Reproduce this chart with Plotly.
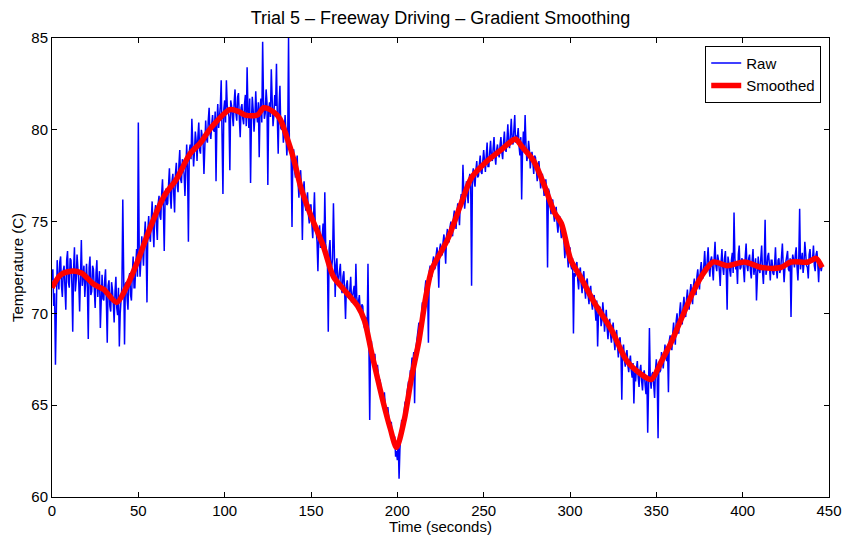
import plotly.graph_objects as go

# Raw samples on whole seconds, t = 0 .. 446
raw_t_a = list(range(0, 447))
raw_v_a = [
    71.8, 70.4, 67.2, 72.9, 71.3, 73.1, 70.9, 72.6, 70.2, 73.4,
    71.4, 72.9, 69.0, 73.6, 71.8, 72.5, 70.1, 74.0, 72.0, 70.9,
    72.7, 68.6, 73.1, 71.2, 72.4, 70.3, 72.9, 71.6, 69.2, 72.1,
    70.7, 72.4, 68.4, 71.8, 70.1, 71.3, 69.5, 72.0, 69.9, 68.2,
    70.9, 76.2, 68.3, 71.7, 70.2, 72.2, 70.7, 73.1, 71.4, 73.5,
    80.4, 72.0, 74.2, 72.6, 75.0, 70.6, 75.3, 73.9, 76.1, 73.6,
    75.9, 74.0, 76.4, 75.1, 77.3, 73.4, 76.8, 76.0, 77.9, 75.7,
    77.6, 75.5, 78.2, 76.6, 78.9, 77.1, 78.1, 76.4, 79.2, 73.9,
    79.2, 80.6, 78.0, 79.9, 78.3, 80.4, 78.7, 79.6, 77.6, 80.5,
    79.3, 81.2, 79.5, 80.8, 79.9, 77.2, 81.4, 80.6, 82.7, 76.5,
    81.6, 82.7, 81.0, 77.8, 81.3, 80.2, 82.2, 80.5, 82.0, 79.6,
    81.4, 80.3, 81.9, 83.4, 80.1, 77.1, 81.8, 79.9, 82.1, 80.4,
    78.5, 81.7, 84.8, 80.6, 82.2, 77.0, 81.5, 83.3, 80.2, 81.9,
    83.6, 78.7, 82.4, 80.0, 79.3, 80.8, 78.6, 85.0, 79.2, 74.7,
    78.9, 77.4, 78.6, 76.3, 77.8, 74.0, 77.2, 75.6, 76.6, 74.9,
    75.9, 74.1, 76.6, 74.5, 72.3, 74.8, 73.6, 74.9, 76.6, 73.2,
    69.0, 74.0, 72.5, 76.0, 70.9, 73.0, 71.8, 72.7, 71.1, 72.3,
    69.7, 71.8, 70.8, 72.0, 70.9, 71.5, 72.7, 70.4, 71.0, 70.1,
    70.4, 69.2, 69.7, 72.7, 64.2, 68.5, 67.9, 67.8, 67.0, 66.8,
    66.4, 65.6, 65.4, 65.0, 64.3, 64.2, 63.5, 63.4, 62.8, 62.2,
    62.0, 61.0, 63.4, 63.6, 64.7, 64.6, 65.9, 65.6, 66.8, 67.3,
    65.1, 68.3, 68.9, 68.6, 70.1, 69.8, 71.3, 71.0, 68.4, 72.6,
    72.0, 73.1, 72.5, 73.6, 71.4, 73.8, 73.2, 74.3, 72.7, 74.6,
    73.9, 75.0, 74.2, 75.6, 74.6, 76.0, 74.8, 76.5, 78.1, 75.7,
    77.2, 76.0, 77.6, 71.5, 77.9, 76.9, 78.3, 77.5, 78.6, 77.6,
    78.9, 77.7, 79.3, 78.0, 79.4, 78.3, 79.6, 78.1, 79.2, 78.5,
    79.6, 78.4, 79.9, 78.8, 80.3, 79.0, 80.6, 79.2, 80.8, 79.7,
    80.1, 78.6, 76.2, 79.9, 80.8, 78.3, 79.4, 77.9, 78.8, 77.6,
    78.5, 77.2, 78.3, 76.8, 77.6, 76.4, 77.3, 72.5, 76.6, 75.4,
    76.2, 75.0, 75.8, 74.4, 75.3, 74.1, 74.8, 73.0, 74.0, 72.5,
    73.6, 72.4, 68.9, 72.0, 72.8, 71.3, 72.5, 71.1, 72.3, 70.8,
    71.9, 70.5, 71.5, 70.2, 71.0, 69.6, 68.2, 70.4, 69.3, 70.6,
    69.0, 70.2, 68.6, 69.7, 68.4, 69.5, 68.0, 69.1, 67.6, 68.7,
    65.3, 68.3, 67.1, 68.0, 66.8, 67.7, 66.5, 65.1, 66.3, 67.4,
    66.0, 67.2, 65.8, 66.9, 65.6, 63.5, 69.2, 65.9, 66.8, 65.4,
    67.5, 63.2, 66.8, 67.9, 67.0, 68.3, 67.4, 65.7, 68.8, 68.0,
    69.5, 68.3, 70.0, 68.9, 70.6, 69.4, 70.9, 69.8, 71.3, 70.2,
    71.6, 70.5, 71.9, 71.0, 72.4, 71.3, 72.8, 71.9, 73.4, 72.2,
    73.6, 72.0, 73.1, 71.8, 73.9, 72.3, 72.9, 71.5, 73.5, 72.1,
    73.4, 70.2, 72.8, 72.0, 73.3, 75.5, 72.4, 71.6, 73.7, 72.5,
    72.9, 71.7, 73.8, 72.3, 73.2, 71.9, 73.5, 72.6, 70.7, 73.1,
    72.2, 73.7, 71.6, 75.1, 72.4, 73.3, 71.8, 72.9, 72.1, 73.6,
    71.9, 73.0, 72.4, 73.8, 71.7, 72.8, 73.4, 72.3, 69.8, 73.2,
    72.5, 73.6, 71.8, 75.7, 72.9, 72.2, 73.9, 72.6, 71.9, 73.5,
    72.8, 73.7, 72.3, 73.4, 71.7, 72.4, 72.6,
]

# Raw samples on half seconds, t = 0.5 .. 445.5
raw_t_b = [i + 0.5 for i in range(0, 446)]
raw_v_b = [
    72.4, 71.1, 70.6, 71.9, 72.8, 71.5, 72.3, 71.4, 72.9, 71.7,
    73.0, 71.6, 72.4, 71.2, 73.2, 71.7, 72.8, 71.5, 72.6, 71.9,
    71.4, 72.5, 71.0, 72.6, 71.3, 72.2, 70.9, 72.3, 71.5, 70.8,
    71.8, 70.6, 71.5, 70.4, 71.7, 70.5, 71.2, 70.3, 71.4, 70.0,
    71.5, 70.3, 71.6, 70.8, 71.9, 71.0, 72.1, 71.4, 72.6, 72.0,
    73.5, 72.9, 73.4, 74.1, 73.6, 74.5, 74.2, 75.1, 74.6, 75.5,
    74.8, 76.0, 75.3, 76.5, 75.7, 76.3, 75.9, 77.0, 76.4, 77.2,
    76.5, 77.6, 77.0, 78.1, 77.3, 78.4, 77.6, 78.5, 77.9, 78.8,
    78.4, 79.3, 78.8, 79.4, 79.6, 78.9, 80.0, 79.3, 79.9, 79.5,
    80.5, 79.8, 80.3, 80.0, 81.0, 80.4, 80.1, 81.3, 79.8, 81.1,
    80.4, 81.3, 80.7, 81.6, 80.8, 81.5, 80.9, 81.8, 80.6, 81.2,
    80.6, 81.4, 80.2, 81.0, 81.7, 80.5, 81.1, 80.7, 80.9, 81.5,
    81.2, 80.4, 81.6, 80.9, 81.5, 81.1, 80.7, 81.7, 80.8, 81.3,
    80.6, 81.3, 80.1, 80.5, 79.9, 79.8, 79.5, 79.0, 78.5, 78.9,
    77.8, 78.1, 77.2, 77.4, 76.7, 76.6, 76.1, 76.2, 75.4, 75.9,
    74.9, 75.3, 74.7, 73.9, 74.3, 73.6, 74.2, 73.3, 73.8, 73.0,
    73.5, 72.6, 73.0, 72.1, 72.6, 71.6, 72.3, 71.4, 72.0, 71.2,
    71.5, 70.9, 71.3, 70.6, 71.1, 70.4, 70.9, 70.6, 70.2, 70.5,
    69.4, 69.8, 68.9, 68.7, 68.2, 67.6, 67.3, 66.9, 67.2, 66.1,
    65.9, 65.1, 65.7, 64.6, 64.9, 63.9, 64.1, 63.0, 63.3, 62.5,
    63.1, 62.6, 64.2, 64.0, 65.2, 65.6, 66.3, 66.9, 67.6, 67.9,
    68.0, 68.8, 69.5, 69.3, 70.6, 70.9, 71.8, 71.6, 72.3, 72.1,
    72.8, 72.4, 73.2, 72.9, 73.5, 73.2, 73.9, 73.6, 74.2, 73.9,
    74.7, 74.6, 75.2, 75.0, 75.5, 75.4, 76.1, 75.9, 76.6, 76.3,
    76.6, 77.3, 76.9, 77.5, 77.2, 77.8, 77.4, 78.1, 77.7, 78.3,
    78.3, 78.6, 78.0, 78.8, 78.5, 79.0, 78.6, 78.9, 78.7, 79.2,
    78.8, 79.3, 79.0, 79.5, 79.2, 79.8, 79.4, 80.0, 79.3, 79.6,
    79.1, 79.6, 78.8, 79.0, 79.2, 78.6, 78.9, 78.5, 78.2, 78.6,
    77.9, 77.7, 77.6, 77.3, 77.0, 76.9, 76.5, 76.8, 75.9, 76.1,
    75.4, 75.6, 74.9, 75.1, 74.6, 74.6, 73.9, 73.8, 73.2, 73.4,
    72.6, 73.0, 72.2, 72.6, 71.8, 72.3, 71.6, 72.0, 71.4, 71.7,
    71.0, 71.3, 70.6, 70.9, 70.3, 70.7, 69.9, 70.3, 69.6, 70.0,
    69.6, 69.2, 69.4, 68.8, 69.1, 68.6, 68.8, 68.3, 68.5, 67.9,
    68.0, 67.5, 67.8, 67.2, 67.4, 66.9, 67.3, 66.8, 67.0, 66.5,
    66.9, 66.3, 66.7, 66.1, 66.6, 66.0, 66.4, 66.7, 66.1, 66.9,
    66.4, 67.3, 66.9, 67.4, 67.6, 67.7, 68.1, 68.5, 68.3, 68.9,
    68.8, 69.6, 69.3, 70.1, 69.7, 70.4, 70.2, 70.8, 70.5, 71.1,
    71.1, 71.5, 71.4, 72.0, 71.7, 72.3, 72.1, 72.6, 72.4, 72.9,
    72.5, 72.9, 72.4, 73.0, 72.6, 73.2, 72.3, 72.8, 72.5, 73.0,
    72.3, 73.1, 72.5, 72.9, 72.2, 73.0, 72.7, 73.2, 72.4, 73.0,
    72.4, 73.1, 72.6, 73.0, 72.3, 72.9, 72.1, 73.0, 72.6, 72.4,
    73.0, 72.3, 72.8, 72.1, 73.1, 72.6, 72.9, 72.2, 72.7, 72.4,
    72.9, 72.2, 73.1, 72.6, 72.5, 73.2, 72.4, 73.0, 72.6, 72.9,
    73.2, 72.5, 73.0, 72.4, 73.3, 72.7, 73.1, 72.5, 73.2, 72.8,
    73.0, 72.6, 73.2, 72.7, 72.9, 72.3,
]

# Smoothed curve samples
smooth_t = [0, 5, 11, 17, 24, 30, 37.5, 43, 49, 57, 65, 72, 80, 86, 92, 103, 108, 112,
            119, 122.6, 128, 132, 136, 140, 144, 150, 157, 163, 169, 177, 181, 185, 192,
            196, 199.5, 204, 208, 212.5, 216.5, 220, 229, 237, 243, 252, 260, 265, 268.5,
            272, 279, 285, 291, 295, 300.5, 306, 314, 324, 333, 341, 347, 353, 358.5, 364,
            370, 376, 383, 391, 401, 411, 422, 428, 438, 442.5, 446]
smooth_v = [71.4, 72.1, 72.3, 72.2, 71.6, 71.3, 70.6, 71.4, 72.7, 74.7, 76.4, 77.3, 78.7,
            79.3, 80.1, 81.1, 81.0, 80.8, 80.8, 81.2, 81.0, 80.6, 79.6, 78.4, 76.9, 75.3,
            73.7, 72.0, 71.3, 70.4, 69.6, 67.9, 65.1, 63.7, 62.7, 64.2, 66.4, 68.5, 70.9,
            72.4, 74.0, 76.0, 77.4, 78.3, 78.9, 79.3, 79.5, 79.1, 78.3, 77.0, 75.5, 74.9,
            72.9, 72.0, 70.6, 69.1, 67.4, 66.7, 66.4, 67.4, 68.4, 69.6, 70.9, 72.0, 72.8,
            72.6, 72.8, 72.5, 72.5, 72.8, 72.8, 73.0, 72.5]

x_ticks = [0, 50, 100, 150, 200, 250, 300, 350, 400, 450]
y_ticks = [60, 65, 70, 75, 80, 85]

# merge the two sample sets into one time-ordered series
raw_pairs = sorted(zip(raw_t_a + raw_t_b, raw_v_a + raw_v_b))
raw_t = [p[0] for p in raw_pairs]
raw_v = [p[1] for p in raw_pairs]

FONT = "Liberation Sans, Arial, Helvetica, sans-serif"

fig = go.Figure()
fig.add_trace(go.Scatter(x=raw_t, y=raw_v, mode="lines", name="Raw",
                         line=dict(color="#0000ff", width=1.5)))
fig.add_trace(go.Scatter(x=smooth_t, y=smooth_v, mode="lines", name="Smoothed",
                         line=dict(color="#ff0000", width=5.5, shape="spline", smoothing=0.8)))

axis_common = dict(showline=True, linecolor="black", linewidth=1, mirror="ticks",
                   ticks="inside", ticklen=5, tickcolor="black", showgrid=False,
                   zeroline=False, automargin=False,
                   tickfont=dict(family=FONT, size=15, color="black"))

fig.update_layout(
    width=847, height=535,
    margin=dict(l=52, r=18, t=38, b=38),
    paper_bgcolor="white", plot_bgcolor="white",
    title=dict(text="Trial 5 \u2013 Freeway Driving \u2013 Gradient Smoothing",
               x=0.5, xref="paper", xanchor="center", y=0.966, yanchor="middle",
               font=dict(family=FONT, size=18, color="black")),
    xaxis=dict(range=[0, 450], tickvals=x_ticks,
               title=dict(text="Time (seconds)", standoff=0,
                          font=dict(family=FONT, size=15, color="black")),
               **axis_common),
    yaxis=dict(range=[60, 85], tickvals=y_ticks,
               title=dict(text="Temperature (C)", standoff=4,
                          font=dict(family=FONT, size=15, color="black")),
               **axis_common),
    legend=dict(x=0.99, y=0.983, xanchor="right", yanchor="top",
                bgcolor="white", bordercolor="black", borderwidth=1,
                font=dict(family=FONT, size=15, color="black"),
                tracegroupgap=0, itemwidth=30),
    showlegend=True,
)

fig.write_html("out.html")
